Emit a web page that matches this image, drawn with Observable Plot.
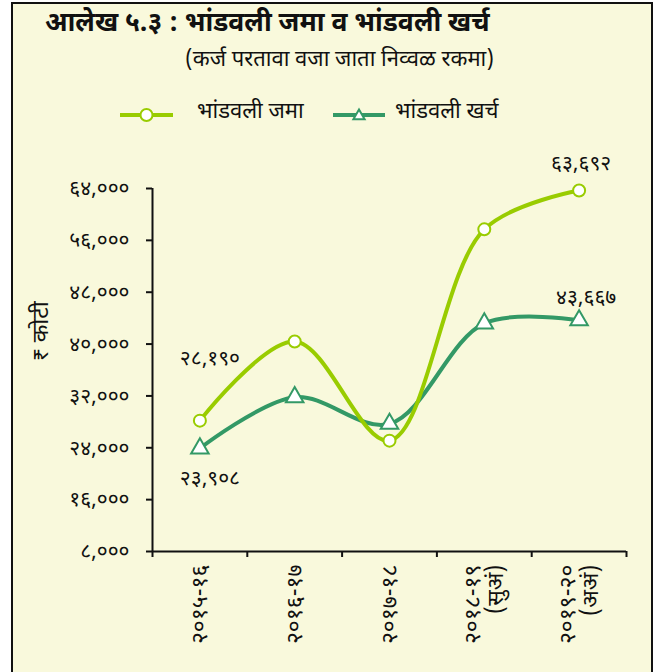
<!DOCTYPE html>
<html>
<head>
<meta charset="utf-8">
<script src="https://cdn.jsdelivr.net/npm/d3@7"></script>
<script src="https://cdn.jsdelivr.net/npm/@observablehq/plot@0.6"></script>
<style>
  html, body { margin: 0; padding: 0; background: #fff; }
  #page { position: relative; width: 665px; height: 672px; overflow: hidden;
          font-family: "Noto Sans Devanagari", "Lohit Devanagari", "Noto Sans", "DejaVu Sans", sans-serif; }
  #frame { position: absolute; left: 11px; top: 2px; width: 638px; height: 700px;
           border: 2px solid #111; background: #F9F9DC; }
  .hdr { position: absolute; white-space: nowrap; color: #111; line-height: 1; }
  #title { left: 45px; top: 12px; font-size: 26.5px; font-weight: bold; }
  #subtitle { left: 185px; top: 50px; font-size: 22px; }
  .lg { position: absolute; top: 106px; }
  .lt { position: absolute; top: 102px; font-size: 22px; white-space: nowrap; line-height: 1; color: #111; }
  #chart { position: absolute; left: 0; top: 135px; }
</style>
</head>
<body>
<div id="page">
  <div id="frame"></div>
  <div class="hdr" id="title"></div>
  <div class="hdr" id="subtitle"></div>
  <div id="legend"></div>
  <div id="chart"></div>
</div>
<script>
const titleText = "आलेख ५.३ : भांडवली जमा व भांडवली खर्च";
const subtitleText = "(कर्ज परतावा वजा जाता निव्वळ रकमा)";
const seriesNames = ["भांडवली जमा", "भांडवली खर्च"];
const yLabel = "₹ कोटी";
const categories = ["२०१५-१६", "२०१६-१७", "२०१७-१८", "२०१८-१९\n(सुअं)", "२०१९-२०\n(अअं)"];
const jama = [28190, 40400, 25100, 57700, 63692];
const kharch = [23908, 31800, 27700, 43200, 43667];
const yTicks = [8000, 16000, 24000, 32000, 40000, 48000, 56000, 64000];

const cJama = "#99CC00";
const cKharch = "#339966";
const font = '"Noto Sans Devanagari", "Lohit Devanagari", "Noto Sans", "DejaVu Sans", sans-serif';

const devDigits = "०१२३४५६७८९";
const toDev = s => String(s).replace(/[0-9]/g, d => devDigits[+d]);
const fmt = v => toDev(d3.format(",")(v));

document.getElementById("title").textContent = titleText;
document.getElementById("subtitle").textContent = subtitleText;

// legend
const leg = document.getElementById("legend");
function swatch(color, symbol, left, w) {
  const s = d3.create("svg").attr("class", "lg").attr("width", w).attr("height", 18).style("left", left + "px");
  s.append("line").attr("x1", 0).attr("x2", w).attr("y1", 9).attr("y2", 9)
    .attr("stroke", color).attr("stroke-width", 4);
  if (symbol === "circle") {
    s.append("circle").attr("cx", w / 2).attr("cy", 9).attr("r", 6)
      .attr("fill", "white").attr("stroke", color).attr("stroke-width", 2);
  } else {
    s.append("path").attr("d", d3.symbol(d3.symbolTriangle2, 90)()).attr("transform", `translate(${w / 2},10)`)
      .attr("fill", "white").attr("stroke", color).attr("stroke-width", 2);
  }
  return s.node();
}
function legText(t, left) {
  const e = document.createElement("div"); e.className = "lt"; e.style.left = left + "px"; e.textContent = t; return e;
}
leg.appendChild(swatch(cJama, "circle", 120, 53));
leg.appendChild(legText(seriesNames[0], 197));
leg.appendChild(swatch(cKharch, "triangle", 333, 52));
leg.appendChild(legText(seriesNames[1], 395));

const rows = categories.map((c, i) => ({i, c, jama: jama[i], kharch: kharch[i]}));
const first = [rows[0]];
const last = [rows[rows.length - 1]];

const chart = Plot.plot({
  width: 665,
  height: 537,
  marginLeft: 152,
  marginRight: 39,
  marginTop: 53,
  marginBottom: 121,
  style: {background: "transparent", fontFamily: font, color: "#111"},
  x: {type: "linear", domain: [-0.5, categories.length - 0.5]},
  y: {domain: [8000, 64000]},
  marks: [
    Plot.ruleY([8000], {stroke: "#111", strokeWidth: 2}),
    Plot.ruleX([-0.5], {y1: 8000, y2: 64000, stroke: "#111", strokeWidth: 2}),
    Plot.axisX({ticks: d3.range(categories.length + 1).map(d => d - 0.5), tickSize: 6, strokeWidth: 2, tickFormat: () => "", label: null}),
    Plot.axisX({ticks: d3.range(categories.length), tickSize: 0, tickPadding: 13, tickFormat: i => categories[i],
      rotate: -90, textAnchor: "end", lineAnchor: "middle", fontSize: 23, label: null}),
    Plot.axisY({ticks: yTicks, tickSize: 6, strokeWidth: 2, tickPadding: 17, tickFormat: fmt, fontSize: 21, label: null}),
    Plot.text([yLabel], {frameAnchor: "left", dx: -112, dy: -9, rotate: -90, fontSize: 23}),
    Plot.line(rows, {x: "i", y: "kharch", curve: "catmull-rom", stroke: cKharch, strokeWidth: 4}),
    Plot.line(rows, {x: "i", y: "jama", curve: "catmull-rom", stroke: cJama, strokeWidth: 4}),
    Plot.dot(rows, {x: "i", y: "kharch", symbol: "triangle", r: 6.5, fill: "white", stroke: cKharch, strokeWidth: 2}),
    Plot.dot(rows, {x: "i", y: "jama", r: 6, fill: "white", stroke: cJama, strokeWidth: 2}),
    Plot.text(first, {x: "i", y: "jama", text: d => fmt(d.jama), dx: 10, dy: -62, fontSize: 21}),
    Plot.text(first, {x: "i", y: "kharch", text: d => fmt(d.kharch), dx: 10, dy: 30, fontSize: 21}),
    Plot.text(last, {x: "i", y: "jama", text: d => fmt(d.jama), dx: 2, dy: -27, fontSize: 21}),
    Plot.text(last, {x: "i", y: "kharch", text: d => fmt(d.kharch), dx: 7, dy: -23, fontSize: 21})
  ]
});
document.getElementById("chart").appendChild(chart);
</script>
</body>
</html>
